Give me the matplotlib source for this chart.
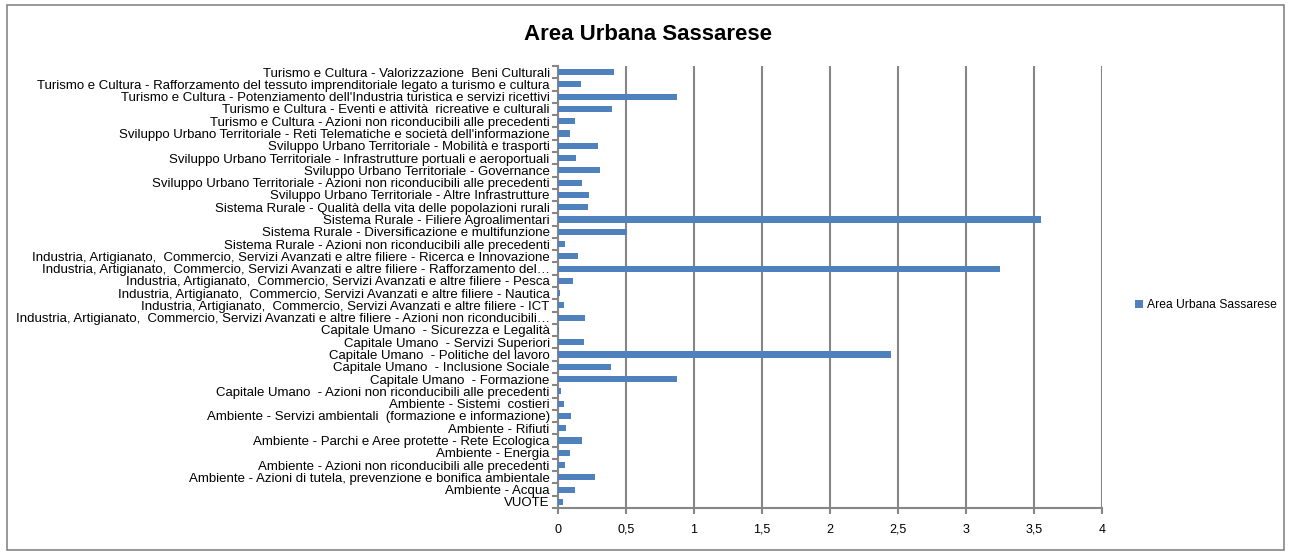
import numpy as np
import matplotlib.pyplot as plt
from matplotlib.patches import Rectangle

plt.rcParams['font.family'] = ['Liberation Sans', 'DejaVu Sans']

categories = [
    "Turismo e Cultura - Valorizzazione  Beni Culturali",
    "Turismo e Cultura - Rafforzamento del tessuto imprenditoriale legato a turismo e cultura",
    "Turismo e Cultura - Potenziamento dell'Industria turistica e servizi ricettivi",
    "Turismo e Cultura - Eventi e attività  ricreative e culturali",
    "Turismo e Cultura - Azioni non riconducibili alle precedenti",
    "Sviluppo Urbano Territoriale - Reti Telematiche e società dell'informazione",
    "Sviluppo Urbano Territoriale - Mobilità e trasporti",
    "Sviluppo Urbano Territoriale - Infrastrutture portuali e aeroportuali",
    "Sviluppo Urbano Territoriale - Governance",
    "Sviluppo Urbano Territoriale - Azioni non riconducibili alle precedenti",
    "Sviluppo Urbano Territoriale - Altre Infrastrutture",
    "Sistema Rurale - Qualità della vita delle popolazioni rurali",
    "Sistema Rurale - Filiere Agroalimentari",
    "Sistema Rurale - Diversificazione e multifunzione",
    "Sistema Rurale - Azioni non riconducibili alle precedenti",
    "Industria, Artigianato,  Commercio, Servizi Avanzati e altre filiere - Ricerca e Innovazione",
    "Industria, Artigianato,  Commercio, Servizi Avanzati e altre filiere - Rafforzamento del…",
    "Industria, Artigianato,  Commercio, Servizi Avanzati e altre filiere - Pesca",
    "Industria, Artigianato,  Commercio, Servizi Avanzati e altre filiere - Nautica",
    "Industria, Artigianato,  Commercio, Servizi Avanzati e altre filiere - ICT",
    "Industria, Artigianato,  Commercio, Servizi Avanzati e altre filiere - Azioni non riconducibili…",
    "Capitale Umano  - Sicurezza e Legalità",
    "Capitale Umano  - Servizi Superiori",
    "Capitale Umano  - Politiche del lavoro",
    "Capitale Umano  - Inclusione Sociale",
    "Capitale Umano  - Formazione",
    "Capitale Umano  - Azioni non riconducibili alle precedenti",
    "Ambiente - Sistemi  costieri",
    "Ambiente - Servizi ambientali  (formazione e informazione)",
    "Ambiente - Rifiuti",
    "Ambiente - Parchi e Aree protette - Rete Ecologica",
    "Ambiente - Energia",
    "Ambiente - Azioni non riconducibili alle precedenti",
    "Ambiente - Azioni di tutela, prevenzione e bonifica ambientale",
    "Ambiente - Acqua",
    "VUOTE",
]

values = [
    0.41, 0.167, 0.875, 0.397, 0.125, 0.086, 0.294, 0.132, 0.309, 0.18, 0.23, 0.22,
    3.55, 0.507, 0.054, 0.15, 3.25, 0.108, 0.012, 0.047, 0.199, 0.01, 0.191, 2.45,
    0.39, 0.875, 0.02, 0.044, 0.093, 0.061, 0.18, 0.086, 0.054, 0.27, 0.127, 0.037,
]

xticks = [0, 0.5, 1, 1.5, 2, 2.5, 3, 3.5, 4]
xlabels = ['0', '0,5', '1', '1,5', '2', '2,5', '3', '3,5', '4']

fig = plt.figure(figsize=(12.9, 5.54), dpi=100)
ax = fig.add_axes([558 / 1290, 1 - 508 / 554, 544 / 1290, 442 / 554])

grey = '#868686'
blue = '#4F81BD'
y = np.arange(len(categories))
ax.barh(y, values, height=0.5, color=blue, label='Area Urbana Sassarese', zorder=3)

ax.set_ylim(len(categories) - 0.5, -0.5)
ax.set_xlim(0, 4)
ax.set_xticks(xticks)
ax.set_xticklabels(xlabels, fontsize=9)
for lab in ax.get_xticklabels():
    lab.set_verticalalignment('baseline')
ax.set_yticks(y)
ax.set_yticklabels(categories, fontsize=9.5)
ax.set_yticks(np.arange(len(categories) + 1) - 0.5, minor=True)
ax.tick_params(axis='y', which='major', length=0, pad=6)
ax.tick_params(axis='y', which='minor', length=4, width=1.5, color=grey)
ax.tick_params(axis='x', length=4, width=1.5, color=grey, pad=14)

ax.grid(axis='x', color=grey, linewidth=1.5, zorder=0)
for s in ['top', 'right']:
    ax.spines[s].set_visible(False)
for s in ['left', 'bottom']:
    ax.spines[s].set_color(grey)
    ax.spines[s].set_linewidth(1.5)

fig.text(648 / 1290, 1 - 35 / 554, 'Area Urbana Sassarese', ha='center', va='center',
         fontsize=16, fontweight='bold')

fig.legend(loc='center left', bbox_to_anchor=(1124 / 1290, 1 - 305 / 554), frameon=False,
           fontsize=8.7, handlelength=0.7, handleheight=0.7, handletextpad=0.3)

fig.patches.append(Rectangle((7 / 1290, 4 / 554), 1277 / 1290, 545 / 554, transform=fig.transFigure,
                             fill=False, edgecolor=grey, linewidth=1.2))

fig.savefig('out.png', dpi=100)
